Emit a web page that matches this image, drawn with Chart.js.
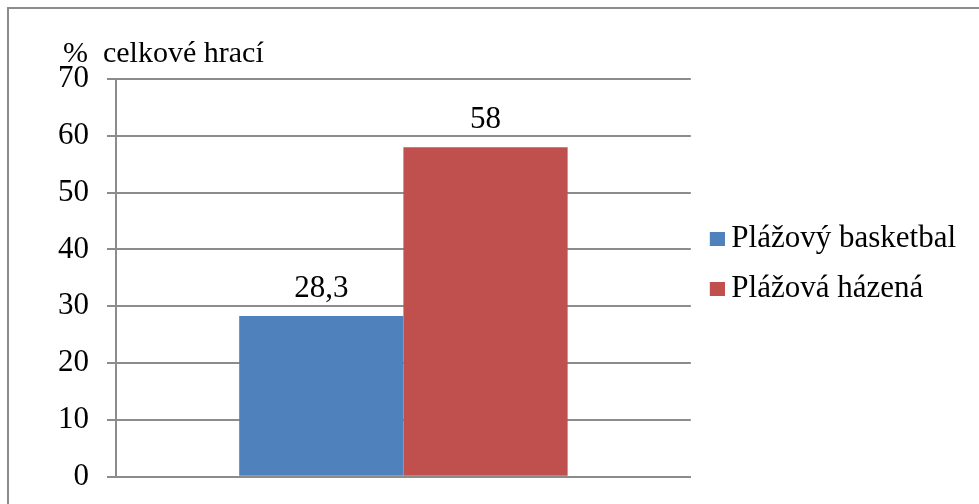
<!DOCTYPE html>
<html>
<head>
<meta charset="utf-8">
<script src="https://cdn.jsdelivr.net/npm/chart.js@4"></script>
<style>
  html, body { margin: 0; padding: 0; background: #fff; }
  body { width: 979px; height: 504px; position: relative; overflow: hidden; }
  #frame { position: absolute; left: 7px; top: 7px; width: 980px; height: 520px; border: 2px solid #8c8c8c; box-sizing: border-box; }
  #wrap { position: absolute; left: 0; top: 0; width: 979px; height: 504px; }
</style>
</head>
<body>
<div id="frame"></div>
<div id="wrap"><canvas id="c" width="979" height="504"></canvas></div>
<script>
const categories = [""];
const seriesNames = ["Plážový basketbal", "Plážová házená"];
const basketbalValues = [28.3];
const hazenaValues = [58];
const seriesColors = ["#4f81bd", "#c0504d"];
const yTicks = [0, 10, 20, 30, 40, 50, 60, 70];
const axisTitle = "%  celkové hrací";

const FONT = "'Liberation Serif', 'Times New Roman', serif";

// legend swatch images (colour square placed on the right part of a wider transparent canvas)
function makeSwatch(color) {
  const c = document.createElement('canvas');
  c.width = 24; c.height = 14;
  const g = c.getContext('2d');
  g.fillStyle = color;
  g.fillRect(9, 0, 15, 14);
  return c;
}
const swatches = seriesColors.map(makeSwatch);

const labelsPlugin = {
  id: 'barLabels',
  afterDatasetsDraw(chart) {
    const ctx = chart.ctx;
    ctx.save();
    ctx.font = "31px " + FONT;
    ctx.fillStyle = "#000";
    ctx.textAlign = "center";
    ctx.textBaseline = "alphabetic";
    chart.data.datasets.forEach((ds, i) => {
      const meta = chart.getDatasetMeta(i);
      meta.data.forEach((bar, j) => {
        const v = ds.data[j];
        ctx.fillText(String(v).replace('.', ','), bar.x, bar.y - 19);
      });
    });
    const a = chart.chartArea;
    ctx.textAlign = "left";
    ctx.font = "30px " + FONT;
    ctx.fillText(axisTitle, a.left - 53, a.top - 17);
    ctx.restore();
  }
};

new Chart(document.getElementById('c'), {
  type: 'bar',
  data: {
    labels: categories,
    datasets: [
      { label: seriesNames[0], data: basketbalValues, backgroundColor: seriesColors[0] },
      { label: seriesNames[1], data: hazenaValues, backgroundColor: seriesColors[1] }
    ]
  },
  options: {
    responsive: false,
    animation: false,
    devicePixelRatio: 1,
    layout: { padding: { left: 40, top: 79, right: 13, bottom: 9 } },
    datasets: { bar: { categoryPercentage: 0.5714, barPercentage: 1 } },
    plugins: {
      legend: {
        position: 'right',
        align: 'start',
        maxWidth: 320,
        title: { display: true, text: ' ', padding: { top: 111, bottom: 0 } },
        labels: {
          font: { family: FONT, size: 31 },
          color: '#000',
          usePointStyle: true,
          boxWidth: 6,
          boxHeight: 14,
          padding: 19,
          generateLabels(chart) {
            const items = Chart.defaults.plugins.legend.labels.generateLabels(chart);
            return items.map((it, i) => Object.assign(it, { pointStyle: swatches[i % swatches.length] }));
          }
        }
      },
      tooltip: { enabled: false }
    },
    scales: {
      x: {
        ticks: { display: false },
        grid: { display: false },
        border: { display: true, color: '#8c8c8c', width: 2 }
      },
      y: {
        min: 0, max: 70,
        afterBuildTicks(scale) { scale.ticks = yTicks.map(v => ({ value: v })); },
        ticks: { font: { family: FONT, size: 31, lineHeight: 0.6 }, color: '#000', padding: 18 },
        grid: { color: '#8c8c8c', lineWidth: 2, tickLength: 9, drawTicks: true },
        border: { display: true, color: '#8c8c8c', width: 2 }
      }
    }
  },
  plugins: [labelsPlugin]
});
</script>
</body>
</html>
